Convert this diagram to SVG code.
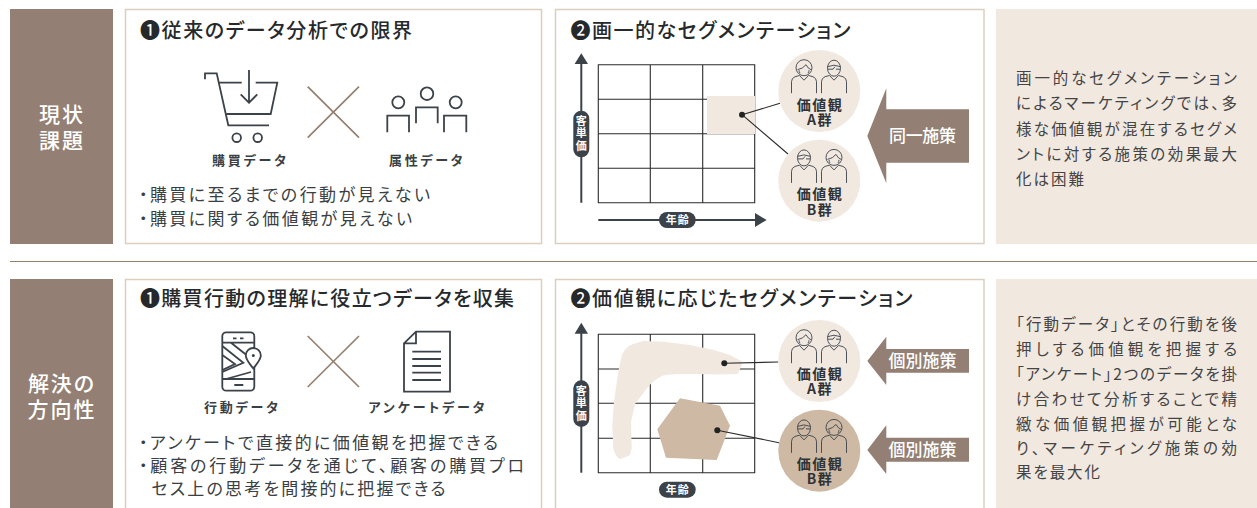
<svg xmlns="http://www.w3.org/2000/svg" width="1257" height="508" viewBox="0 0 1257 508">
<style>
text{font-family:"Noto Sans CJK JP","Noto Sans",sans-serif;font-feature-settings:"palt";fill:#333b42}
.head{fill:#fff;font-size:21px;font-weight:500;text-anchor:middle;letter-spacing:2px}
.title{font-size:20px;font-weight:500;fill:#26292c}
.body{font-size:17px;fill:#3a3f44}
.lab{font-size:13px;font-weight:700;fill:#3a3f44}
.note{font-size:15.5px;fill:#444}
.cl{font-size:14px;font-weight:700;fill:#2f3336;text-anchor:middle;letter-spacing:1.5px}
.act{font-size:17px;font-weight:500;fill:#fff}
.pt{font-size:11px;font-weight:700;fill:#fff;text-anchor:middle;letter-spacing:1px}
.pv{writing-mode:vertical-rl;letter-spacing:1.5px}
.panel{fill:#fff;stroke:#dccfc0;stroke-width:1.5}
.brown{fill:#937f73}
.pale{fill:#f1e8e0}
.tan{fill:#cdb9a4}
.ink{fill:none;stroke:#3b4249;stroke-width:1.8}
.x{stroke:#96806f;stroke-width:1.7;fill:none}
.grid{fill:none;stroke:#2b2b2b;stroke-width:1.1}
.axis{fill:none;stroke:#3b4249;stroke-width:2}
.lk{fill:none;stroke:#2b2b2b;stroke-width:1.1}
.pill{fill:#3b4249}
.dot{fill:#222}
.p{fill:none;stroke:#3b4249;stroke-width:.9}
</style>
<defs>
<g id="body"><path class="p" d="M-12.500 11.500V0Q-12.500-3.500-9-5L-4.500-6.200 0-1.500 4.500-6.200 9-5Q12.500-3.500 12.500 0V11.500"/></g>
<g id="woman"><use href="#body"/><circle class="p" cx="0" cy="-14" r="8"/><path class="p" d="M-6.500-12Q-1-13 2-17Q4-13 7-12M-4-8.500Q-5-10-5-11.500M4-8.500Q5-10 5-11.500"/></g>
<g id="man"><use href="#body"/><ellipse class="p" cx="0" cy="-13.500" rx="6.500" ry="8"/><path class="p" d="M-6.500-15Q0-18 6.500-15M-6-12.500H-1L1-15M2-12.500H6"/></g>
</defs>

<g id="row-divider"><path d="M10 261.500H1257" stroke="#96806f" stroke-width="1" fill="none"/></g>

<g id="head-top"><rect class="brown" x="10" y="9" width="103" height="235"/><text class="head"><tspan x="62" y="122">現状</tspan><tspan x="62" y="148">課題</tspan></text></g>
<g id="head-bottom"><rect class="brown" x="10" y="279" width="103" height="229"/><text class="head"><tspan x="62" y="391">解決の</tspan><tspan x="62" y="417">方向性</tspan></text></g>

<g id="panel-limits">
<rect class="panel" x="125.500" y="9.500" width="416" height="234"/>
<text class="title" x="140" y="38" textLength="272">❶従来のデータ分析での限界</text>
<g id="icon-cart"><path class="ink" d="M205 79.300V73.300H216.700L228.300 125.300H269M219.300 82.700H241.700M255.700 82.700H277.300L270.700 114H226.700M249 70V102.700M240.700 94.300L249 102.700 257.300 94.300"/><circle class="ink" cx="236.700" cy="137.700" r="4.300"/><circle class="ink" cx="257.700" cy="137.700" r="4.300"/></g>
<path class="x" d="M307.700 86.700L359 137.700M359 86.700L307.700 137.700"/>
<g id="icon-people"><circle class="ink" cx="398.300" cy="102.300" r="6"/><circle class="ink" cx="427" cy="93.700" r="6.300"/><circle class="ink" cx="455.700" cy="102.300" r="6"/><path class="ink" d="M387.300 132.300V115.700H409V132.300M416 123.300V107.300H437.700V123.300M444 132.300V115.700H466.300V132.300"/></g>
<text class="lab" x="212" y="164.500" textLength="74">購買データ</text>
<text class="lab" x="389" y="164.500" textLength="73.500">属性データ</text>
<text class="body" x="139" y="201" textLength="291">・購買に至るまでの行動が見えない</text>
<text class="body" x="139" y="225" textLength="273">・購買に関する価値観が見えない</text>
</g>

<g id="panel-uniform">
<rect class="panel" x="555.500" y="9.500" width="428.500" height="234"/>
<text class="title" x="570.500" y="38" textLength="280">❷画一的なセグメンテーション</text>
<path class="grid" d="M598.300 64.700H754.700V202.700H598.300ZM650.300 64.700V202.700M702.700 64.700V202.700M598.300 99.300H754.700M598.300 133.700H754.700M598.300 168.300H754.700"/>
<rect id="same-zone" class="pale" x="707" y="96" width="48" height="38"/>
</g>

<g id="panel-collect">
<path class="panel" d="M125.500 512V279.500H541.500V512"/>
<text class="title" x="140" y="306" textLength="374">❶購買行動の理解に役立つデータを収集</text>
<g id="icon-phone"><rect class="ink" x="222.300" y="332.300" width="32" height="58.400" rx="4"/><path class="ink" d="M222.300 342.700H254.300M222.300 379H254.300M233 338.300H236.500M240 338.300H243.500M234.300 385H243.300M222.300 346L243.300 362.700 222.300 372M222.300 355L235 364 222.300 370M231 342.700L249 357M251 372L226 379"/><path d="M253.300 368.500C249 363 245.800 359.500 245.800 355.500A7.500 7.500 0 0 1 260.800 355.500C260.800 359.500 257.500 363 253.300 368.500Z" fill="#fff" stroke="#3b4249" stroke-width="1.800"/><circle cx="253.300" cy="355.500" r="1.500" fill="#3b4249"/></g>
<path class="x" d="M307.700 336L359 387M359 336L307.700 387"/>
<g id="icon-doc"><path class="ink" d="M404 343.300L416 331.700H450V391.700H404ZM416 331.700V343.300H404M412.300 351.700H441M412.300 359H441M412.300 366H441M412.300 372.700H441M412.300 380H441"/></g>
<text class="lab" x="204" y="411.500" textLength="74">行動データ</text>
<text class="lab" x="368.500" y="411.500" textLength="116">アンケートデータ</text>
<text class="body" x="139" y="449" textLength="359">・アンケートで直接的に価値観を把握できる</text>
<text class="body" x="139" y="472" textLength="385">・顧客の行動データを通じて、顧客の購買プロ</text>
<text class="body" x="151.500" y="495" textLength="294">セス上の思考を間接的に把握できる</text>
</g>

<g id="panel-values">
<path class="panel" d="M555.500 512V279.500H984V512"/>
<text class="title" x="570.500" y="306" textLength="342">❷価値観に応じたセグメンテーション</text>
<path class="grid" d="M598.300 334.300H754.700V472.700H598.300ZM650.300 334.300V472.700M702.700 334.300V472.700M598.300 369H754.700M598.300 403.300H754.700M598.300 438.300H754.700"/>
<path id="zone-a" class="pale" stroke="#f1e8e0" stroke-width="3" stroke-linejoin="round" d="M620 457.500C617 455 615.500 452 614.800 448L613.800 425 615.500 401.700 619.800 371.700 623.200 356C625 351 628 348.500 631 346.500L643.500 342.500 663.300 343.200 690 346.500 713.300 351.500 729.500 356.500 741 362.500 737 372.500 716.700 373 690 372.300C680 372.300 670 372.500 663 374C655 377.500 650 382 645.500 387.500L633.800 403 629.500 421.700 630.200 448 628.800 454Z"/>
<path id="zone-b" class="tan" d="M680 398.300L720 405.700 730 425.700 716.700 460 666 457.700 657.300 429.300Z"/>
</g>

<g id="connectors">
<path class="lk" d="M742 114.700L780 103.300M742 114.700L788 154M724.300 363.300L778.300 362M717.300 430.300L779 442.700"/>
<path class="axis" d="M581.300 62V202.700M598.300 220H757"/>
<path class="pill" d="M581.300 53.300L588 64H574.600ZM766.700 220L755 213V227Z"/>
<path class="axis" d="M581.300 331V472.700"/>
<path class="pill" d="M581.300 322.700L588 333.700H574.600Z"/>
</g>

<g id="dots"><circle class="dot" cx="742" cy="114.700" r="3"/><circle class="dot" cx="724.300" cy="363.300" r="3"/><circle class="dot" cx="717.300" cy="430.300" r="3"/></g>

<g id="axis-price-top"><rect class="pill" x="573.300" y="110.700" width="16" height="46.600" rx="8"/><text class="pt pv" x="581.300" y="134">客単価</text></g>
<g id="axis-age-top"><rect class="pill" x="659" y="212" width="36.700" height="16" rx="8"/><text class="pt" x="677.800" y="224">年齢</text></g>
<g id="axis-price-bottom"><rect class="pill" x="573.300" y="380.300" width="16" height="46.600" rx="8"/><text class="pt pv" x="581.300" y="403.600">客単価</text></g>
<g id="axis-age-bottom"><rect class="pill" x="659" y="481.700" width="36.700" height="16" rx="8"/><text class="pt" x="677.800" y="493.700">年齢</text></g>

<g id="group-a-top"><circle class="pale" cx="819.300" cy="91" r="41"/><use href="#woman" x="804" y="81.700"/><use href="#man" x="834" y="81.700"/><text class="cl"><tspan x="820" y="110">価値観</tspan><tspan x="820" y="125">A群</tspan></text></g>
<g id="group-b-top"><circle class="pale" cx="819.300" cy="180.700" r="41"/><use href="#man" x="804" y="171.400"/><use href="#woman" x="834" y="171.400"/><text class="cl"><tspan x="820" y="199">価値観</tspan><tspan x="820" y="215">B群</tspan></text></g>
<g id="group-a-bottom"><circle class="pale" cx="819.300" cy="361" r="41"/><use href="#woman" x="804" y="351.700"/><use href="#man" x="834" y="351.700"/><text class="cl"><tspan x="820" y="379">価値観</tspan><tspan x="820" y="394">A群</tspan></text></g>
<g id="group-b-bottom"><circle class="tan" cx="819.300" cy="450.700" r="41"/><use href="#man" x="804" y="441.400"/><use href="#woman" x="834" y="441.400"/><text class="cl"><tspan x="820" y="469">価値観</tspan><tspan x="820" y="484">B群</tspan></text></g>

<g id="action-same"><path class="brown" d="M867.300 136L886.300 88.300V109.300H969V162.700H886.300V183.300Z"/><text class="act" x="889" y="142" textLength="67">同一施策</text></g>
<g id="action-a"><path class="brown" d="M867.300 361L886.300 336.700V349H969V372.700H886.300V385Z"/><text class="act" x="888.500" y="367" textLength="68">個別施策</text></g>
<g id="action-b"><path class="brown" d="M867.300 450L886.300 425.300V437.700H969V461.700H886.300V474Z"/><text class="act" x="888.500" y="456" textLength="68">個別施策</text></g>

<g id="note-top"><rect class="pale" x="996" y="9" width="261" height="235"/>
<text class="note" x="1016" y="84" textLength="221">画一的なセグメンテーション</text>
<text class="note" x="1016" y="109" textLength="221">によるマーケティングでは、多</text>
<text class="note" x="1016" y="134.500" textLength="221">様な価値観が混在するセグメ</text>
<text class="note" x="1016" y="160" textLength="221">ントに対する施策の効果最大</text>
<text class="note" x="1016" y="185" textLength="68">化は困難</text>
</g>
<g id="note-bottom"><rect class="pale" x="996" y="279" width="261" height="229"/>
<text class="note" x="1016" y="329.500" textLength="221">「行動データ」とその行動を後</text>
<text class="note" x="1016" y="354.500" textLength="221">押しする価値観を把握する</text>
<text class="note" x="1016" y="379.500" textLength="221">「アンケート」2つのデータを掛</text>
<text class="note" x="1016" y="404.500" textLength="221">け合わせて分析することで精</text>
<text class="note" x="1016" y="429.500" textLength="221">緻な価値観把握が可能とな</text>
<text class="note" x="1016" y="454" textLength="221">り、マーケティング施策の効</text>
<text class="note" x="1016" y="478" textLength="84">果を最大化</text>
</g>
</svg>
